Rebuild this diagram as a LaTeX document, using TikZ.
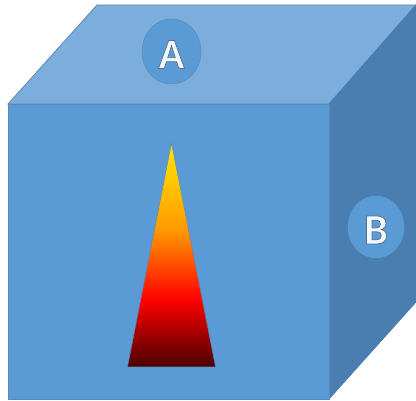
\documentclass[tikz,border=0pt]{standalone}
\usepackage{fontspec}
\setmainfont{Carlito}[BoldFont={Carlito Bold}]
\usetikzlibrary{shapes.geometric}
\definecolor{frontblue}{HTML}{5B9BD5}
\definecolor{topblue}{HTML}{7CAEDD}
\definecolor{sideblue}{HTML}{4A7EB0}
\definecolor{edgeblue}{HTML}{5E89B3}
\definecolor{flameA}{HTML}{4A0000}
\definecolor{flameB}{HTML}{FF0000}
\definecolor{flameC}{HTML}{FF9900}
\definecolor{flameD}{HTML}{FFC800}
\definecolor{flameE}{HTML}{FFE600}
\pgfdeclareverticalshading{flame}{100bp}{
    color(0bp)=(flameA);
    color(25bp)=(flameA);
    color(40bp)=(flameB);
    color(55.5bp)=(flameC);
    color(66.5bp)=(flameD);
    color(75bp)=(flameE);
    color(100bp)=(flameE)
}
\newcommand{\outlined}[1]{\raisebox{-3pt}[\height][0pt]{\special{pdf:code 2 Tr 0.33 0.44 0.55 RG 0.7 w}#1\special{pdf:code 0 Tr}}}

\begin{document}
\begin{tikzpicture}[
    x=1pt,
    y=-1pt,
    face/.style={draw=edgeblue, line width=0.8pt, line join=miter},
    badge/.style={
        ellipse,
        draw=edgeblue,
        fill=frontblue,
        line width=0.5pt,
        inner sep=0pt,
        text=white!92!frontblue,
        font=\fontsize{43}{43}\selectfont\bfseries
    }
]
\useasboundingbox (0,0) rectangle (416,401);

\fill[white] (0,0) rectangle (416,401);

\draw[face, fill=topblue] (8,104) -- (97,5) -- (416,5) -- (329,104) -- cycle;
\draw[face, draw=sideblue, fill=sideblue] (329,104) -- (416,5) -- (416,302) -- (329,399) -- cycle;
\draw[face, fill=frontblue] (8,104) rectangle (329,399);

\shade[shading=flame, draw=edgeblue, line width=0.5pt]
    (171.5,143) -- (215.5,367) -- (127.5,367) -- cycle;

\node (labelA) [badge, minimum width=59pt, minimum height=65pt] at (171.5,51.5)
    {\outlined{A}};
\node (labelB) [badge, draw=frontblue, minimum width=56pt, minimum height=62pt] at (376,227)
    {\outlined{B}};

\end{tikzpicture}
\end{document}
